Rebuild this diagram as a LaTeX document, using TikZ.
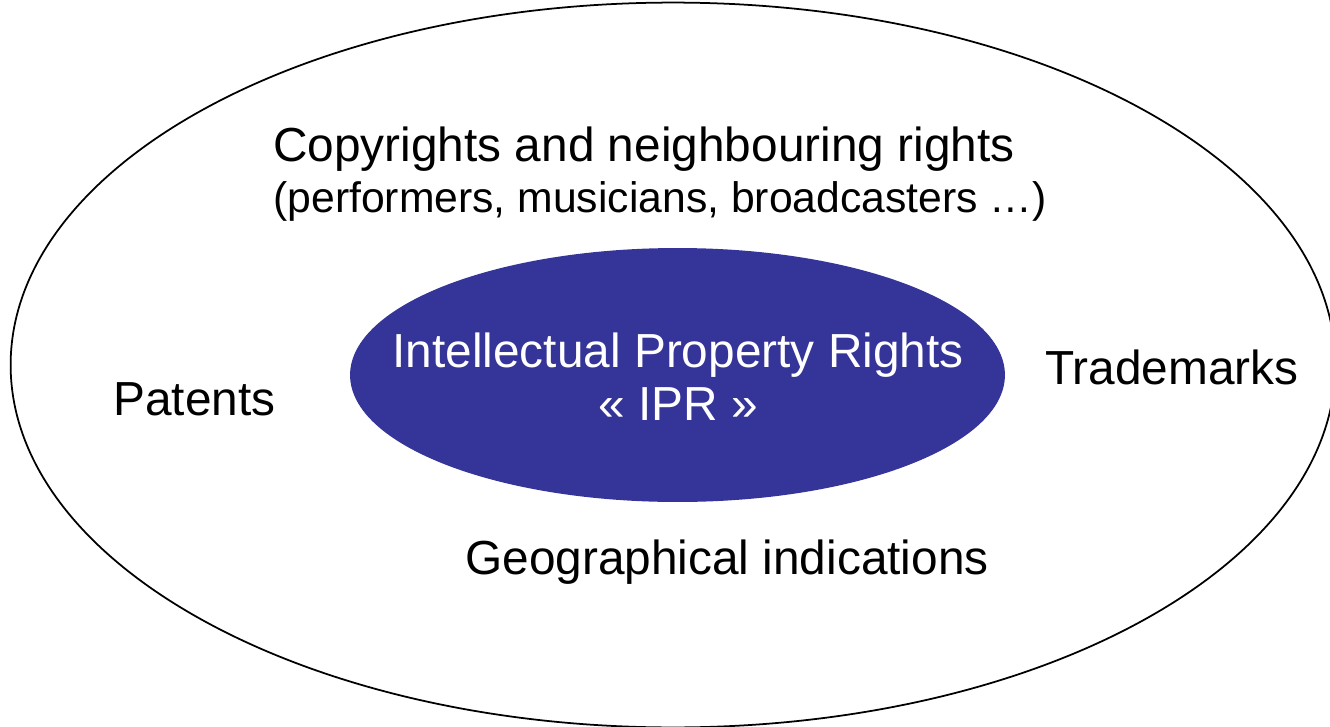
\documentclass[tikz,border=0pt]{standalone}
\usepackage{tikz}
\usetikzlibrary{shapes.geometric}
\usepackage{xcolor}
\usepackage{fontspec}
\setmainfont{Liberation Sans}

\definecolor{iprblue}{RGB}{52,52,153}

\begin{document}
\begin{tikzpicture}[x=0.02cm, y=-0.02cm]
        % ================= 样式定义 =================
        \tikzset{
            % 外层大椭圆 (无填充)
            outer_oval/.style={ellipse, draw=black, line width=1pt, inner sep=0pt, minimum width=26.5cm, minimum height=14.5cm},
            % 内层蓝色椭圆 (IPR)
            inner_oval/.style={ellipse, fill=iprblue, draw=none, inner sep=0pt, minimum width=13.1cm, minimum height=5.08cm},
            % 大号文字
            big_text/.style={font=\fontsize{27.2}{31}\selectfont, inner sep=0pt},
            % 小号文字
            small_text/.style={font=\fontsize{24.3}{29}\selectfont, inner sep=0pt},
            % 白色文字 (蓝色椭圆内)
            white_text/.style={big_text, text=white, align=center}
        }

        % 图片边界 (1330 x 727)
        \useasboundingbox (0,0) rectangle (1330,727);

        % 定义椭圆中心
        \coordinate (outer_c) at (673,365);
        \coordinate (inner_c) at (677.5,375);

        % 绘制两个椭圆
        \node[outer_oval] (outer) at (outer_c) {};
        \node[inner_oval] (ipr) at (inner_c) {};

        % 内层文字
        \node[white_text] (ipr_text) at (678,377) {Intellectual Property Rights\\[-1pt]« IPR »};

        % 外层各项权利
        \node[big_text, anchor=base west] (copy) at (273,161) {Copyrights and neighbouring rights};
        \node[small_text, anchor=base west] (perf) at (273,212) {(performers, musicians, broadcasters …)};
        \node[big_text, anchor=base west] (pat) at (113,415) {Patents};
        \node[big_text, anchor=base west] (tm) at (1045,384) {Trademarks};
        \node[big_text, anchor=base west] (geo) at (465,574) {Geographical indications};

    \end{tikzpicture}
\end{document}
